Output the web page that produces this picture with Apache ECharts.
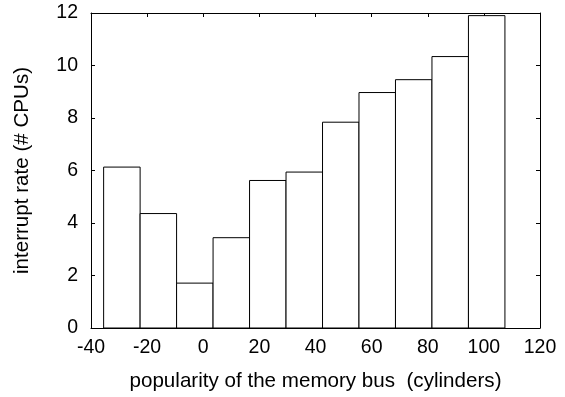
<!DOCTYPE html>
<html>
<head>
<meta charset="utf-8">
<script src="https://cdn.jsdelivr.net/npm/echarts@6/dist/echarts.min.js"></script>
<style>html,body{margin:0;padding:0;background:#fff}#c{width:565px;height:397px}</style>
</head>
<body>
<div id="c"></div>
<script>
// Data
const binCenters = [-29, -16, -3, 10, 23, 36, 49, 62, 75, 88, 101];
const binHeights = [6.13, 4.36, 1.71, 3.44, 5.62, 5.94, 7.84, 8.97, 9.46, 10.34, 11.90];
const binWidth = 13;
const xTicks = [-40, -20, 0, 20, 40, 60, 80, 100, 120];
const yTicks = [0, 2, 4, 6, 8, 10, 12];
const xTitle = 'popularity of the memory bus  (cylinders)';
const yTitle = 'interrupt rate (# CPUs)';

const FONT = '"Liberation Sans", Arial, Helvetica, sans-serif';
const chart = echarts.init(document.getElementById('c'), null, {renderer: 'canvas'});

function axisCommon() {
  return {
    axisLine: {show: true, onZero: false, lineStyle: {color: '#000', width: 1}},
    axisTick: {show: true, inside: true, length: 4, lineStyle: {color: '#000', width: 1}},
    splitLine: {show: false}
  };
}

chart.setOption({
  animation: false,
  backgroundColor: '#fff',
  grid: {left: 91, right: 25, top: 13, bottom: 68},
  xAxis: [
    Object.assign({
      type: 'value', min: xTicks[0], max: xTicks[xTicks.length - 1], interval: 20,
      position: 'bottom',
      name: xTitle, nameLocation: 'middle', nameGap: 43,
      nameTextStyle: {fontFamily: FONT, fontSize: 20.6, color: '#000'},
      axisLabel: {fontFamily: FONT, fontSize: 19.5, color: '#000', margin: 10}
    }, axisCommon()),
    Object.assign({
      type: 'value', min: xTicks[0], max: xTicks[xTicks.length - 1], interval: 20,
      position: 'top', axisLabel: {show: false}
    }, axisCommon())
  ],
  yAxis: [
    Object.assign({
      type: 'value', min: yTicks[0], max: yTicks[yTicks.length - 1], interval: 2,
      position: 'left',
      name: yTitle, nameLocation: 'middle', nameGap: 58, nameRotate: 90,
      nameTextStyle: {fontFamily: FONT, fontSize: 20.6, color: '#000'},
      axisLabel: {fontFamily: FONT, fontSize: 19.5, color: '#000', margin: 13}
    }, axisCommon()),
    Object.assign({
      type: 'value', min: yTicks[0], max: yTicks[yTicks.length - 1], interval: 2,
      position: 'right', axisLabel: {show: false}
    }, axisCommon())
  ],
  series: [{
    type: 'custom',
    xAxisIndex: 0, yAxisIndex: 0,
    data: binCenters.map((c, i) => [c, binHeights[i]]),
    renderItem: function (params, api) {
      const c = api.value(0), h = api.value(1);
      const p1 = api.coord([c - binWidth / 2, h]);
      const p2 = api.coord([c + binWidth / 2, 0]);
      return {
        type: 'rect',
        shape: {x: p1[0], y: p1[1], width: p2[0] - p1[0], height: p2[1] - p1[1]},
        style: {fill: '#fff', stroke: '#000', lineWidth: 1}
      };
    }
  }]
});
</script>
</body>
</html>
